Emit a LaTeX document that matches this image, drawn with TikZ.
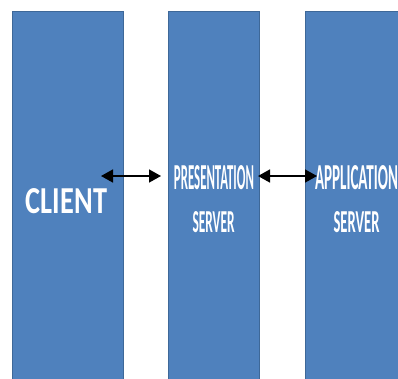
\documentclass[tikz,border=0pt]{standalone}
\usepackage{fontspec}
\setmainfont{Carlito}
\usetikzlibrary{arrows.meta}
\definecolor{boxblue}{HTML}{4F81BD}
\definecolor{boxedge}{HTML}{3E6898}
\begin{document}
\begin{tikzpicture}[x=1pt,y=-1pt,
  tier/.style={draw=boxedge,line width=0.8pt,fill=boxblue,inner sep=0pt,minimum height=380pt,anchor=north west},
  lbl/.style={text=white,inner sep=0pt,font=\bfseries},
  link/.style={{Triangle[length=12pt,width=13pt]}-{Triangle[length=12pt,width=13pt]},line width=1.6pt,black}]
\useasboundingbox (0,0) rectangle (398,378);
\clip (0,0) rectangle (398,378);
\node[tier,minimum width=111pt] (client) at (12,11) {};
\node[tier,minimum width=91pt] (pres) at (168,11) {};
\node[tier,minimum width=102pt] (app) at (305,11) {};
\node[lbl] (lc) at (66.5,201) {\resizebox{81pt}{25pt}{CLIENT}};
\node[lbl] (lp1) at (214,177.5) {\resizebox{80pt}{24pt}{PRESENTATION}};
\node[lbl] (lp2) at (213.5,222.5) {\resizebox{42pt}{21pt}{SERVER}};
\node[lbl] (la1) at (356.5,177.5) {\resizebox{83pt}{24pt}{APPLICATION}};
\node[lbl] (la2) at (356.5,222.5) {\resizebox{46pt}{21pt}{SERVER}};
\coordinate (c1) at (101,176);
\coordinate (p1) at (161,176);
\coordinate (p2) at (258,176);
\coordinate (a1) at (317,176);
\draw[link] (c1) -- (p1);
\draw[link] (p2) -- (a1);
\end{tikzpicture}
\end{document}
